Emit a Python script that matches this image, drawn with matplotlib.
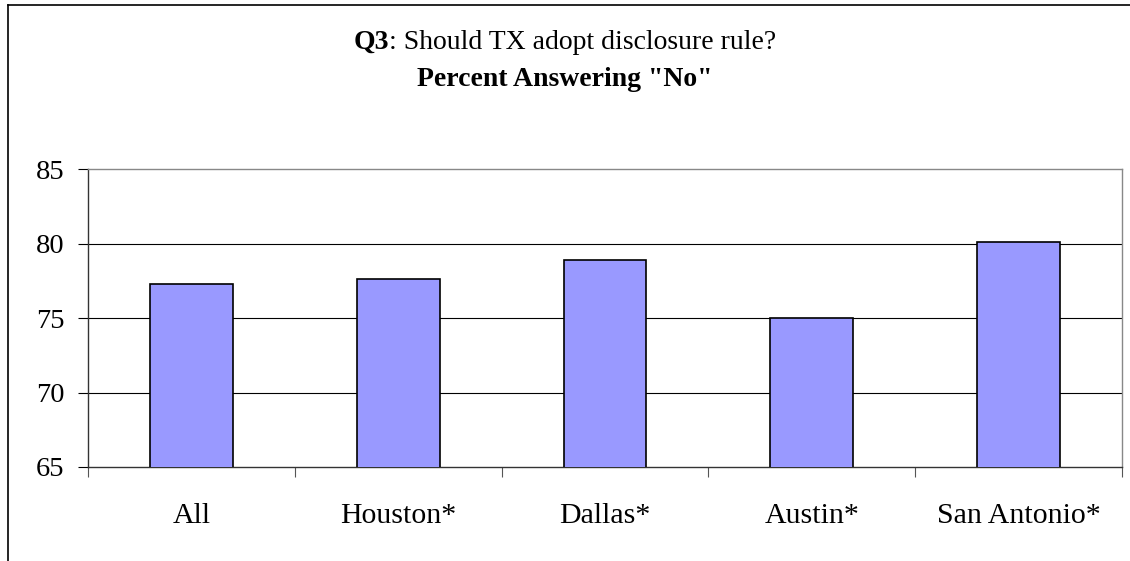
import matplotlib
matplotlib.use('Agg')
import matplotlib.pyplot as plt
from matplotlib.lines import Line2D
import numpy as np

# Dados
categorias = ['All', 'Houston*', 'Dallas*', 'Austin*', 'San Antonio*']
pct_no = [77.3, 77.6, 78.9, 75.0, 80.1]
yticks = [65, 70, 75, 80, 85]

plt.rcParams['font.family'] = ['Liberation Serif', 'DejaVu Serif']

fig = plt.figure(figsize=(11.3, 5.61), dpi=100)
ax = fig.add_axes([88/1130, 94/561, (1122-88)/1130, (467-169.3)/561])

x = np.arange(len(categorias))
ax.bar(x, pct_no, width=0.4, color='#9999FF', edgecolor='black', linewidth=1.2,
       zorder=3)

ax.set_ylim(65, 85)
ax.set_xlim(-0.5, len(categorias) - 0.5)
ax.set_yticks(yticks)
ax.set_yticklabels([str(v) for v in yticks])
ax.set_xticks(x)
ax.set_xticklabels(categorias)
ax.set_xticks(np.arange(len(categorias) + 1) - 0.5, minor=True)

ax.tick_params(axis='y', direction='out', length=7, width=0.8, labelsize=20.5, pad=10)
ax.tick_params(axis='x', which='major', length=0, labelsize=21.5, pad=26)
ax.tick_params(axis='x', which='minor', direction='out', length=7, width=0.8,
               color='#555555')

# grade horizontal
for v in yticks[1:-1]:
    ax.axhline(v, color='black', linewidth=0.8, zorder=1)

ax.spines['left'].set_color('#333333')
ax.spines['bottom'].set_color('#333333')
ax.spines['top'].set_color('#888888')
ax.spines['right'].set_color('#888888')
for s in ax.spines.values():
    s.set_linewidth(1.0)

# moldura externa do gráfico
fig.add_artist(Line2D([7.5/1130, 1.0], [1 - 4.5/561, 1 - 4.5/561],
                      transform=fig.transFigure, color='black', linewidth=1.2))
fig.add_artist(Line2D([7.5/1130, 7.5/1130], [0, 1 - 4.5/561],
                      transform=fig.transFigure, color='black', linewidth=1.2))

# título com parte em negrito
renderer = fig.canvas.get_renderer()
y1 = 1 - 49/561
t1 = fig.text(0, y1, 'Q3', fontsize=20, fontweight='bold', va='baseline')
t2 = fig.text(0, y1, ': Should TX adopt disclosure rule?', fontsize=20,
              va='baseline')
w1 = t1.get_window_extent(renderer).width / fig.bbox.width
w2 = t2.get_window_extent(renderer).width / fig.bbox.width
x0 = 565/1130 - (w1 + w2) / 2
t1.set_x(x0)
t2.set_x(x0 + w1)
fig.text(565/1130, 1 - 86/561, 'Percent Answering "No"', fontsize=20,
         fontweight='bold', ha='center', va='baseline')

fig.savefig('out.png', dpi=100)
